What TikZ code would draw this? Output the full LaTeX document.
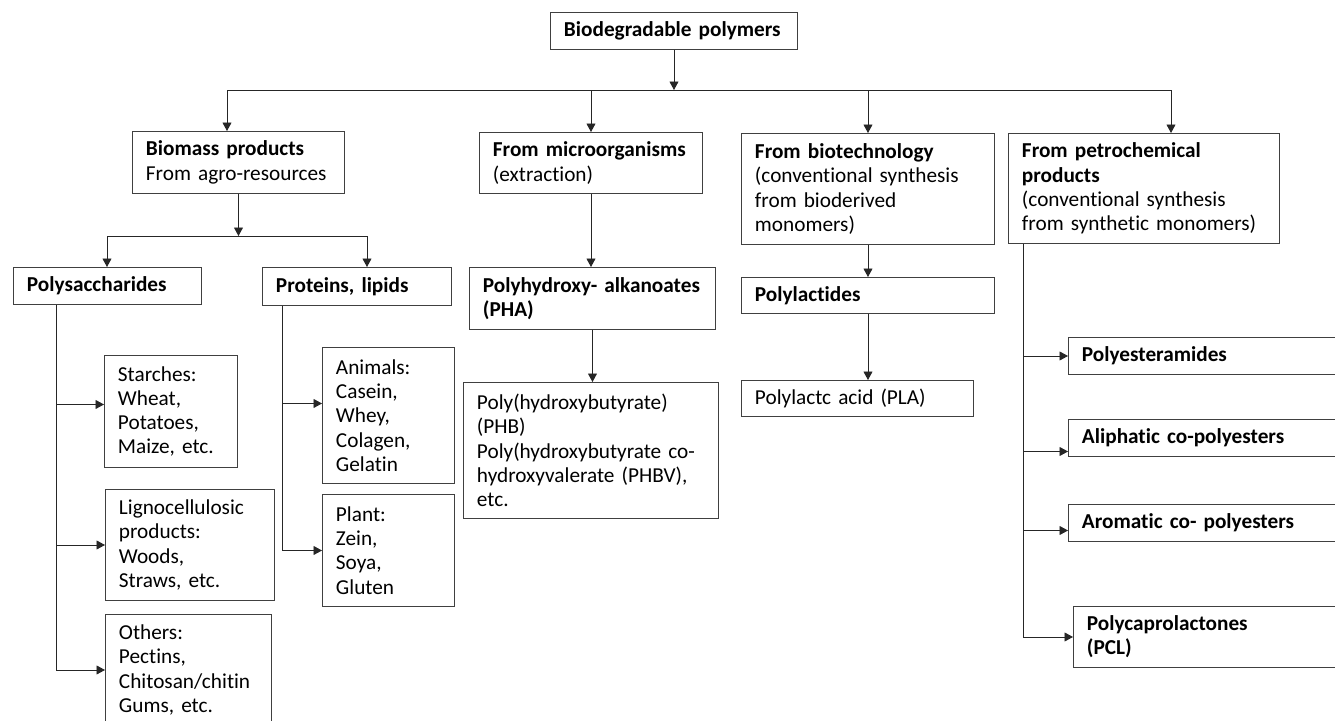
\documentclass[tikz,border=0pt]{standalone}
\usepackage{fontspec}
\setmainfont{Carlito}[Ligatures=NoCommon]
\usetikzlibrary{arrows.meta}
\hyphenpenalty=10000
\exhyphenpenalty=10000
\tikzset{
  box/.style={draw=black!75, line width=0.55pt, anchor=north west, align=left,
    inner xsep=0.27cm, inner ysep=0pt, font=\fontsize{12.1}{13.8}\selectfont},
  link/.style={draw=black!85, line width=0.5pt},
  arr/.style={link, -{Triangle[length=0.17cm,width=0.18cm]}}
}
\begin{document}
\begin{tikzpicture}
      \path[use as bounding box, clip] (0,0) rectangle (26.7,-14.4);

      \node[box, text width=4.40cm, minimum height=0.74cm] (top) at (11.00,-0.24){\textbf{Biodegradable polymers}};

      \node[box, text width=3.70cm, minimum height=1.24cm] (c1) at (2.64,-2.62){\textbf{Biomass products}\\From agro-resources};
      \node[box, text width=3.92cm, minimum height=1.22cm] (c2) at (9.58,-2.64){\textbf{From microorganisms}\\(extraction)};
      \node[box, text width=4.52cm, minimum height=2.22cm] (c3) at (14.82,-2.66){\textbf{From biotechnology}\\(conventional synthesis\\from bioderived\\monomers)};
      \node[box, text width=4.88cm, minimum height=2.20cm] (c4) at (20.16,-2.66){\textbf{From petrochemical}\\\textbf{products}\\(conventional synthesis\\from synthetic monomers)};

      \node[box, text width=3.22cm, minimum height=0.74cm] (p1) at (0.26,-5.34){\textbf{Polysaccharides}};
      \node[box, text width=3.24cm, minimum height=0.76cm] (p2) at (5.24,-5.34){\textbf{Proteins, lipids}};
      \node[box, text width=4.38cm, minimum height=1.24cm] (m1) at (9.38,-5.34){\textbf{Polyhydroxy- alkanoates}\\\textbf{(PHA)}};
      \node[box, text width=4.52cm, minimum height=0.72cm] (l1) at (14.82,-5.54){\textbf{Polylactides}};

      \node[box, text width=2.12cm, minimum height=2.24cm] (a1) at (2.08,-7.10){Starches:\\Wheat,\\Potatoes,\\Maize, etc.};
      \node[box, text width=2.84cm, minimum height=2.22cm] (a2) at (2.10,-9.78){Lignocellulosic\\products:\\Woods,\\Straws, etc.};
      \node[box, text width=2.78cm, minimum height=2.22cm] (a3) at (2.10,-12.28){Others:\\Pectins,\\Chitosan/chitin\\Gums, etc.};

      \node[box, text width=2.10cm, minimum height=2.72cm] (b1) at (6.44,-6.94){Animals:\\Casein,\\Whey,\\Colagen,\\Gelatin};
      \node[box, text width=2.10cm, minimum height=2.24cm] (b2) at (6.44,-9.88){Plant:\\Zein,\\Soya,\\Gluten};

      \node[box, text width=4.56cm, minimum height=2.72cm] (m2) at (9.26,-7.64){Poly(hydroxybutyrate)\\(PHB)\\Poly(hydroxybutyrate co-\\hydroxyvalerate (PHBV),\\etc.};
      \node[box, text width=4.10cm, minimum height=0.72cm] (l2) at (14.82,-7.60){Polylactc acid (PLA)};

      \node[box, text width=6.00cm, minimum height=0.74cm] (r1) at (21.36,-6.74){\textbf{Polyesteramides}};
      \node[box, text width=6.00cm, minimum height=0.74cm] (r2) at (21.36,-8.38){\textbf{Aliphatic co-polyesters}};
      \node[box, text width=6.00cm, minimum height=0.74cm] (r3) at (21.36,-10.08){\textbf{Aromatic co- polyesters}};
      \node[box, text width=6.00cm, minimum height=1.22cm] (r4) at (21.46,-12.12){\textbf{Polycaprolactones}\\\textbf{(PCL)}};

      \coordinate (busL) at (4.54,-1.80);
      \coordinate (busR) at (23.42,-1.80);
      \coordinate (spL) at (2.14,-4.72);
      \coordinate (spR) at (7.34,-4.72);
      \coordinate (t1) at (1.12,0);
      \coordinate (t2) at (5.64,0);
      \coordinate (t3) at (20.46,0);

      \draw[arr] (top) -- (top |- busL);
      \draw[link] (busL) -- (busR);
      \draw[arr] (busL) -- (busL |- c1.north);
      \draw[arr] (c2.north |- busL) -- (c2.north);
      \draw[arr] (c3.north |- busL) -- (c3.north);
      \draw[arr] (busR) -- (busR |- c4.north);

      \draw[arr] (c1.south) -- (c1.south |- spL);
      \draw[link] (spL) -- (spR);
      \draw[arr] (spL) -- (spL |- p1.north);
      \draw[arr] (spR) -- (spR |- p2.north);

      \draw[arr] (c2.south) -- (c2.south |- m1.north);
      \draw[arr] (m1.south) -- (m1.south |- m2.north);
      \draw[arr] (c3.south) -- (l1.north);
      \draw[arr] (l1.south) -- (l1.south |- l2.north);

      \draw[link] (p1.south -| t1) -- (a3.west -| t1);
      \draw[arr] ([yshift=0.14cm]a1.west -| t1) -- ([yshift=0.14cm]a1.west);
      \draw[arr] (a2.west -| t1) -- (a2.west);
      \draw[arr] (a3.west -| t1) -- (a3.west);

      \draw[link] (p2.south -| t2) -- (b2.west -| t2);
      \draw[arr] ([yshift=0.24cm]b1.west -| t2) -- ([yshift=0.24cm]b1.west);
      \draw[arr] (b2.west -| t2) -- (b2.west);

      \draw[link] (c4.south -| t3) -- (r4.west -| t3);
      \draw[arr] (r1.west -| t3) -- (r1.west);
      \draw[arr] ([yshift=-0.27cm]r2.west -| t3) -- ([yshift=-0.27cm]r2.west);
      \draw[arr] ([yshift=-0.15cm]r3.west -| t3) -- ([yshift=-0.15cm]r3.west);
      \draw[arr] (r4.west -| t3) -- (r4.west);
      %\draw[arr] (c4.south) -- (r1.north);
\end{tikzpicture}
\end{document}
